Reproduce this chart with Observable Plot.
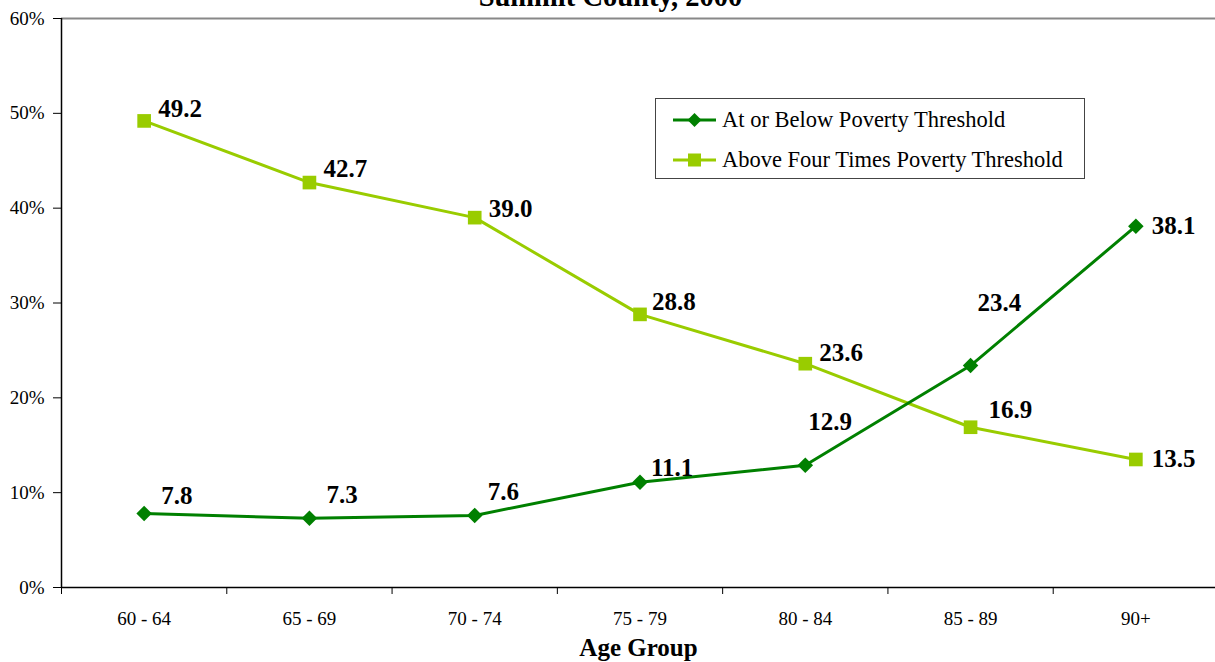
<!DOCTYPE html>
<html><head><meta charset="utf-8">
<script src="https://cdn.jsdelivr.net/npm/d3@7"></script>
<script src="https://cdn.jsdelivr.net/npm/@observablehq/plot@0.6"></script>
<style>
body{margin:0;background:#fff;font-family:"Liberation Serif","Times New Roman",serif;}
#wrap{position:relative;width:1215px;height:662px;overflow:hidden;background:#fff;}
#legend{position:absolute;left:655px;top:98px;width:428px;height:79px;border:1.5px solid #444;background:#fff;}
.row{position:absolute;left:0;height:28px;line-height:28px;font-size:22.5px;color:#000;white-space:nowrap;}
.row svg{position:absolute;left:17px;top:0;}
.row span{position:absolute;left:66px;top:0;}
</style>
</head><body>
<div id="wrap"><div id="chart"></div><div id="legend"></div></div>
<script>
// ---- data ----
const title = "Summit County, 2000";
const xLabel = "Age Group";
const ageGroups = ["60 - 64", "65 - 69", "70 - 74", "75 - 79", "80 - 84", "85 - 89", "90+"];
const belowPoverty = [7.8, 7.3, 7.6, 11.1, 12.9, 23.4, 38.1];
const aboveFourTimes = [49.2, 42.7, 39.0, 28.8, 23.6, 16.9, 13.5];
const seriesNames = ["At or Below Poverty Threshold", "Above Four Times Poverty Threshold"];
const yTicks = [0, 10, 20, 30, 40, 50, 60];

// ---- layout / style ----
const colors = ["#008000", "#99CC00"];
const labelOffsetsBelow = [[17, -18], [17, -23], [13, -23], [11, -14], [3, -43], [7, -63], [16, 0]];
const labelOffsetsAbove = [[14, -12], [14, -14], [14, -9], [12, -12], [14, -11], [18, -17], [16, 0]];

const font = "Liberation Serif";
const idx = d3.range(ageGroups.length);
const rowsBelow = idx.map(i => ({i, value: belowPoverty[i]}));
const rowsAbove = idx.map(i => ({i, value: aboveFourTimes[i]}));
const boundaries = d3.range(ageGroups.length).map(i => i - 0.5);

const labelMarks = [];
rowsBelow.forEach((d, k) => labelMarks.push(Plot.text([d], {
  x: "i", y: "value", text: r => r.value.toFixed(1), textAnchor: "start",
  dx: labelOffsetsBelow[k][0], dy: labelOffsetsBelow[k][1],
  fontSize: 25, fontWeight: "bold", fill: "#000"
})));
rowsAbove.forEach((d, k) => labelMarks.push(Plot.text([d], {
  x: "i", y: "value", text: r => r.value.toFixed(1), textAnchor: "start",
  dx: labelOffsetsAbove[k][0], dy: labelOffsetsAbove[k][1],
  fontSize: 25, fontWeight: "bold", fill: "#000"
})));

const chart = Plot.plot({
  width: 1215,
  height: 662,
  marginTop: 18,
  marginBottom: 75,
  marginLeft: 61,
  marginRight: 0,
  style: {fontFamily: font, background: "white", overflow: "visible"},
  x: {type: "linear", domain: [-0.5, ageGroups.length - 0.5], range: [61, 1218]},
  y: {domain: [0, 60]},
  marks: [
    Plot.ruleY([60], {stroke: "#888", strokeWidth: 2}),
    Plot.axisY(yTicks, {tickSize: 8, tickPadding: 9, tickFormat: d => d + "%", fontSize: 19, label: null, stroke: "#000", fill: "#000"}),
    Plot.axisX(boundaries, {tickSize: 7, tickFormat: () => "", label: null, stroke: "#000"}),
    Plot.axisX(idx, {tickSize: 0, tickPadding: 24, tickFormat: i => ageGroups[i], fontSize: 19, label: null, fill: "#000"}),
    Plot.ruleX([-0.5], {stroke: "#000", strokeWidth: 1.5}),
    Plot.ruleY([0], {stroke: "#000", strokeWidth: 1.5}),
    Plot.line(rowsAbove, {x: "i", y: "value", stroke: colors[1], strokeWidth: 3}),
    Plot.line(rowsBelow, {x: "i", y: "value", stroke: colors[0], strokeWidth: 3}),
    Plot.dot(rowsAbove, {x: "i", y: "value", symbol: "square", r: 7.7, fill: colors[1], stroke: "none"}),
    Plot.dot(rowsBelow, {x: "i", y: "value", symbol: "diamond2", r: 7, fill: colors[0], stroke: "none"}),
    ...labelMarks,
    Plot.text([xLabel], {frameAnchor: "bottom", dy: 68, fontSize: 25, fontWeight: "bold", fill: "#000"}),
    Plot.text([title], {frameAnchor: "top", dx: -28, dy: -33, fontSize: 28.5, fontWeight: "bold", fill: "#000"})
  ]
});
document.getElementById("chart").appendChild(chart);

// legend
const legend = document.getElementById("legend");
const rowCenters = [21, 61];
seriesNames.forEach((name, k) => {
  const row = document.createElement("div");
  row.className = "row";
  row.style.top = (rowCenters[k] - 14) + "px";
  const sym = k === 0
    ? `<polygon points="21.5,7 28.5,14 21.5,21 14.5,14" fill="${colors[0]}"/>`
    : `<rect x="15" y="7.5" width="13" height="13" fill="${colors[1]}"/>`;
  row.innerHTML = `<svg width="44" height="28"><line x1="0" x2="43" y1="14" y2="14" stroke="${colors[k]}" stroke-width="3"/>${sym}</svg><span>${name}</span>`;
  legend.appendChild(row);
});
</script>
</body></html>
